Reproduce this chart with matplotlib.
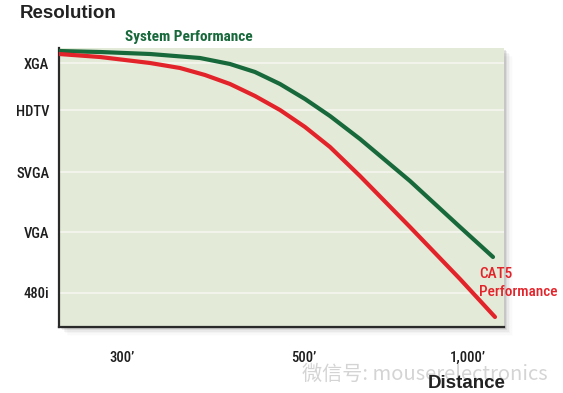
import matplotlib.pyplot as plt
import matplotlib.patches as patches

# resolution levels (y) and distance marks (x), in chart units
res_labels = ['480i', 'VGA', 'SVGA', 'HDTV', 'XGA']
res_pos = [34, 95, 155, 217, 264]
dist_labels = ["300\u2019", "500\u2019", "1,000\u2019"]
dist_pos = [63, 245, 409]

# curves
sys_x = [0, 41, 91, 141, 171, 196, 221, 246, 271, 301, 351, 401, 434]
sys_y = [276, 275, 273, 269, 263, 255, 243, 228, 211, 188, 146, 100, 70]
cat5_x = [0, 41, 91, 121, 146, 171, 196, 221, 246, 271, 301, 351, 401, 436]
cat5_y = [273, 270, 264, 259, 252, 243, 231, 217, 200, 180, 151, 100, 48, 10]

GREEN = '#17683a'
RED = '#e3232a'
NARROW = ['Roboto Condensed', 'DejaVu Sans']
HEAD = ['Liberation Sans', 'DejaVu Sans']

fig = plt.figure(figsize=(5.63, 3.93), dpi=100)
fig.patch.set_facecolor('white')
ax = fig.add_axes([59 / 563, 1 - 327 / 393, 445 / 563, 279 / 393])

# soft drop shadow behind the plot panel (pixel coords)
for i, a in enumerate([0.09, 0.06, 0.04, 0.025, 0.015, 0.008]):
    off = (i + 1) * 1.5
    sh = patches.Rectangle((59 + off, 393 - 327 - off), 445, 279, transform=None,
                           facecolor='black', alpha=a, edgecolor='none', zorder=-5)
    fig.patches.append(sh)

ax.set_facecolor('#e3ead8')
ax.set_xlim(0, 445)
ax.set_ylim(0, 279)

for y in res_pos:
    ax.axhline(y, color='#f6f7ef', lw=1.2, zorder=1)

ax.plot(sys_x, sys_y, color=GREEN, lw=3.0, solid_capstyle='round',
        solid_joinstyle='round', zorder=3)
ax.plot(cat5_x, cat5_y, color=RED, lw=3.0, solid_capstyle='round',
        solid_joinstyle='round', zorder=3)

ax.set_yticks(res_pos)
ax.set_yticklabels(res_labels, family=NARROW, fontsize=10.5, fontweight='medium',
                   color='#1e1e1e')
ax.set_xticks(dist_pos)
ax.set_xticklabels(dist_labels, family=NARROW, fontsize=10.5, fontweight='medium',
                   color='#1e1e1e')
ax.tick_params(axis='both', length=0)
ax.tick_params(axis='y', pad=7)
ax.tick_params(axis='x', pad=17)

for side in ['top', 'right']:
    ax.spines[side].set_visible(False)
for side in ['left', 'bottom']:
    ax.spines[side].set_color('#2a2a2a')
    ax.spines[side].set_linewidth(1.6)

fig.text(20 / 563, 1 - 13 / 393, 'Resolution', family=HEAD, fontsize=13.5,
         fontweight='bold', color='#222222', va='center', ha='left')
fig.text(125 / 563, 1 - 37 / 393, 'System Performance', family=NARROW,
         fontsize=11, fontweight='bold', color=GREEN, va='center', ha='left')
fig.text(479 / 563, 1 - 274 / 393, 'CAT5', family=NARROW,
         fontsize=11, fontweight='medium', color=RED, va='center', ha='left')
fig.text(479 / 563, 1 - 292 / 393, 'Performance', family=NARROW,
         fontsize=11, fontweight='medium', color=RED, va='center', ha='left')

# watermark, drawn under the axis title
fig.text(302 / 563, 1 - 374 / 393, '微信号: mouserelectronics',
         family=['Noto Sans CJK SC', 'DejaVu Sans'], fontsize=14.5, fontweight='light',
         color='#d4d4d4', va='center', ha='left', zorder=4)
fig.text(467 / 563, 1 - 383 / 393, 'Distance', family=HEAD, fontsize=13.5,
         fontweight='bold', color='#222222', va='center', ha='center', zorder=5)

fig.savefig('out.png', dpi=100)
